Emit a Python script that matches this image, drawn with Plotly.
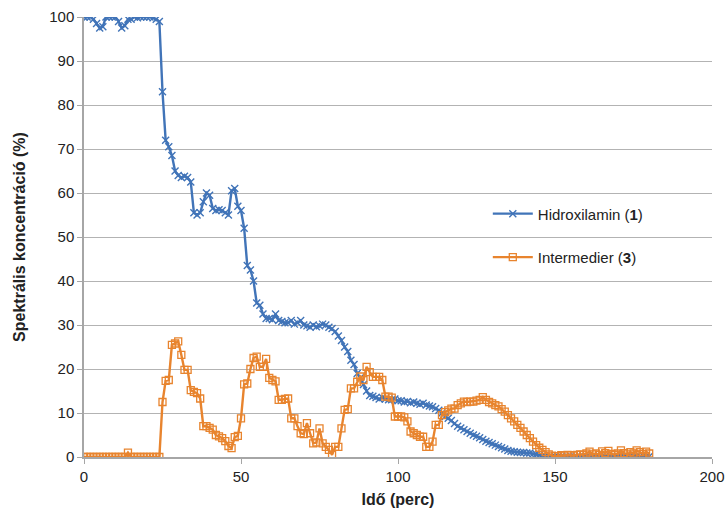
import plotly.graph_objects as go

time_min = list(range(0, 181))

hidroxilamin = [
    100, 100, 100, 99.5, 98.5, 97.5, 97.8, 100, 100, 100,
    100, 99, 97.5, 98, 99.5, 99.5, 100, 99.8, 100, 100,
    100, 100, 99.8, 99.5, 99, 83, 72, 70.5, 68.5, 65,
    64, 63.5, 63.8, 63.5, 62.5, 55.5, 55, 55.5, 58, 60,
    59.5, 56.5, 56, 56.2, 56, 55.5, 55, 60.5, 61, 57,
    56, 52, 43.5, 42.5, 40, 35, 34.5, 32.5, 31.5, 31.5,
    31.2, 32.5, 31, 30.8, 30.5, 30.5, 31, 30.2, 30.5, 31,
    30, 29.8, 29.5, 30, 29.6, 29.8, 30.2, 30, 29.5, 29.2,
    28.5, 27.5, 26.5, 25, 24, 22, 21, 19, 18, 16.5,
    15, 14, 13.8, 13.5, 13.2, 13.5, 13.2, 13, 13, 13.2,
    12.8, 12.8, 12.5, 12.6, 12.3, 12.5, 12.2, 12, 12.2, 11.8,
    11.6, 11.4, 11, 10.6, 10, 9.2, 8.8, 8.3, 7.6, 7,
    6.6, 6.2, 5.8, 5.4, 5, 4.7, 4.4, 4, 3.6, 3.3,
    3, 2.7, 2.4, 2.1, 1.8, 1.5, 1.3, 1.2, 1.1, 1,
    1, 0.9, 0.9, 0.7, 0.6, 0.4, 0.3, 0.2, 0.1, 0.1,
    0.1, 0.2, 0.1, 0, 0.1, 0.2, 0.1, 0, 0.1, 0.2,
    0.1, 0, 0.2, 0.1, 0.3, 0.1, 0.2, 0, 0.1, 0.2,
    0.1, 0.3, 0.1, 0, 0.2, 0.1, 0.2, 0.1, 0.3, 0.1,
    0.1,
]

intermedier = [
    0, 0, 0, 0, 0, 0, 0, 0, 0, 0,
    0, 0, 0, 0, 1, 0, 0, 0, 0, 0,
    0, 0, 0, 0, 0, 12.5, 17.3, 17.5, 25.5, 25.8,
    26.3, 23.2, 19.8, 19.8, 15.2, 14.8, 14.5, 13.3, 7, 7,
    6.6, 6.2, 5, 4.7, 4.3, 3.6, 2.5, 2, 4.5, 4.8,
    8.8, 16.5, 16.7, 20, 22.5, 22.8, 20.5, 20.5, 22.3, 18,
    17.5, 17.2, 13, 13, 13.2, 13.3, 8.8, 8.8, 7, 5.4,
    5.2, 7.7, 5.4, 3.1, 3.3, 6.5, 3.1, 2.3, 1.6, 0.5,
    2.3, 2.3, 6.5, 10.7, 10.9, 15.6, 15.6, 17.1, 18.3, 17.5,
    20.5, 19.3, 18.2, 18.2, 18.2, 17.5, 13.7, 13.7, 13.5, 9.2,
    9.2, 9.2, 9, 8.1, 5.8, 5.4, 5, 4.6, 4.6, 2.3,
    2.3, 3.5, 7.3, 7.3, 9.5, 10.2, 10.6, 11, 11, 11.8,
    12.2, 12.6, 12.5, 12.6, 12.6, 12.8, 13, 13.6, 13, 12.5,
    12.2, 11.8, 11.5, 10.9, 10.3, 9.5, 8.8, 8.1, 7.3, 6.6,
    5.8, 5, 4.3, 3.5, 2.7, 2.1, 1.6, 1.1, 0.6, 0.3,
    0.2, 0.2, 0.4, 0.3, 0.5, 0.4, 0.3, 0.5, 0.6, 0.5,
    0.8, 1.2, 0.6, 0.8, 0.5, 1.3, 0.9, 1.4, 0.7, 0.5,
    0.8, 1.5, 0.9, 0.6, 1.1, 0.8, 1.5, 1.1, 0.7, 1.2,
    0.8,
]

x_ticks = [0, 50, 100, 150, 200]
y_ticks = [0, 10, 20, 30, 40, 50, 60, 70, 80, 90, 100]

BLUE = "#4174b8"
ORANGE = "#e8842e"
FONT = "Liberation Sans, Arial, sans-serif"

fig = go.Figure()
fig.add_trace(go.Scatter(
    x=time_min, y=hidroxilamin, mode="lines+markers",
    name="Hidroxilamin (<b>1</b>)", legendgroup="a",
    line=dict(color=BLUE, width=2.4),
    marker=dict(symbol="x-thin", size=7, line=dict(color=BLUE, width=1.4)),
))
fig.add_trace(go.Scatter(
    x=time_min, y=intermedier, mode="lines+markers",
    name="Intermedier (<b>3</b>)", legendgroup="b",
    line=dict(color=ORANGE, width=2.4),
    marker=dict(symbol="square-open", size=7, color=ORANGE, line=dict(color=ORANGE, width=1.3)),
))

fig.update_layout(
    width=726, height=517,
    margin=dict(l=84, r=14, t=17, b=60),
    plot_bgcolor="white", paper_bgcolor="white",
    font=dict(family=FONT, size=14, color="#222222"),
    showlegend=True,
    legend=dict(x=0.643, y=0.59, xanchor="left", yanchor="top",
                bgcolor="rgba(0,0,0,0)", font=dict(size=15, color="#222222"),
                tracegroupgap=21, itemwidth=40),
)
fig.update_xaxes(
    range=[0, 200], tickvals=x_ticks, showgrid=False, automargin=False,
    ticklabeloverflow="allow",
    showline=True, linecolor="#a6a6a6", linewidth=1.5,
    ticks="outside", ticklen=5, tickcolor="#a6a6a6",
    tickfont=dict(size=15),
    title=dict(text="<b>Idő (perc)</b>", font=dict(size=16), standoff=10),
    zeroline=False,
)
fig.update_yaxes(
    range=[0, 100], tickvals=y_ticks, showgrid=True, automargin=False,
    gridcolor="#b3b3b3", gridwidth=1.3,
    showline=True, linecolor="#a6a6a6", linewidth=1.5,
    ticks="outside", ticklen=5, tickcolor="#a6a6a6",
    tickfont=dict(size=15),
    title=dict(text="<b>Spektrális koncentráció (%)</b>", font=dict(size=16), standoff=20),
    zeroline=False,
)

fig.write_html(
    "out.html",
    config={"displayModeBar": False},
    post_script="document.body.style.margin='0';document.body.style.overflow='hidden';",
)
